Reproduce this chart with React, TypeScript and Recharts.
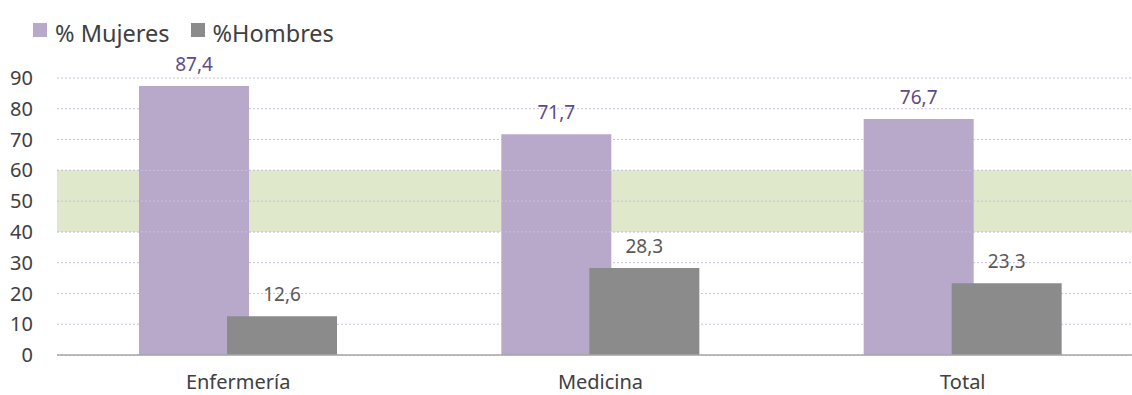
import React from 'react';
import {
  BarChart, Bar, XAxis, YAxis, CartesianGrid, Legend, LabelList,
  ReferenceArea, ReferenceLine,
} from 'recharts';

const categories = ['Enfermería', 'Medicina', 'Total'];
const mujeres = [87.4, 71.7, 76.7];
const hombres = [12.6, 28.3, 23.3];
const yTicks = [0, 10, 20, 30, 40, 50, 60, 70, 80, 90];
const bandRange = [40, 60];
const bandLines = [40, 50, 60];
const edgeTicks = [0, 1, 2, 3];

const data = categories.map((c, i) => ({ cat: c, mujeres: mujeres[i], hombres: hombres[i] }));

const FONT = '"Noto Sans", "Open Sans", sans-serif';
const fmt = (v: any) => String(v).replace('.', ',');

const renderLegend = (props: any) => {
  const { payload } = props;
  return (
    <div style={{ display: 'flex', alignItems: 'flex-start', fontFamily: FONT, fontSize: 23.5, color: '#404040', whiteSpace: 'nowrap', lineHeight: '32px' }}>
      {(payload || []).map((entry: any, i: number) => (
        <div key={i} style={{ display: 'flex', alignItems: 'flex-start', marginRight: 21 }}>
          <span style={{ width: 14, height: 14, background: entry.color, display: 'inline-block', marginRight: 8, marginTop: 6 }} />
          <span>{entry.value}</span>
        </div>
      ))}
    </div>
  );
};

export default function App() {
  return (
    <div style={{ position: 'fixed', left: 0, top: 0, width: 1132, height: 395, overflow: 'hidden', background: '#fff' }}>
      <BarChart
        width={1160}
        height={395}
        data={data}
        margin={{ top: 78, right: 16, bottom: 0, left: 0 }}
        barGap={-22}
      >
        <CartesianGrid xAxisId="b" vertical={false} stroke="#CBBEDD" strokeDasharray="2 2" />
        <ReferenceArea xAxisId="b" y1={bandRange[0]} y2={bandRange[1]} fill="#DFE8CB" fillOpacity={1} stroke="none" />
        {bandLines.map((v) => (
          <ReferenceLine key={v} xAxisId="b" y={v} stroke="#CBBEDD" strokeDasharray="2 2" />
        ))}
        <XAxis
          xAxisId="a"
          type="number"
          domain={[0, 3]}
          allowDataOverflow
          ticks={edgeTicks}
          tick={false}
          tickSize={8}
          height={1}
          axisLine={{ stroke: '#A6A6A6', strokeWidth: 1.5 }}
          tickLine={{ stroke: '#A6A6A6', strokeWidth: 1.5 }}
        />
        <XAxis
          xAxisId="b"
          dataKey="cat"
          axisLine={false}
          tickLine={false}
          tickMargin={13}
          height={39}
          tick={{ fill: '#404040', fontSize: 20, fontFamily: FONT }}
        />
        <YAxis
          domain={[0, 90]}
          ticks={yTicks}
          interval={0}
          axisLine={false}
          tickLine={false}
          tickSize={6}
          tickMargin={18}
          width={57}
          tick={{ fill: '#404040', fontSize: 20, fontFamily: FONT }}
        />
        <Legend
          layout="horizontal"
          verticalAlign="middle"
          align="center"
          content={renderLegend}
          wrapperStyle={{ top: 17, left: 33, width: 'auto', height: 'auto' }}
        />
        <Bar xAxisId="b" dataKey="mujeres" name="% Mujeres" fill="#B8A9CB" barSize={110} isAnimationActive={false}>
          <LabelList dataKey="mujeres" position="top" offset={15} formatter={fmt} fill="#5F4B8B" fontSize={19} fontFamily={FONT} />
        </Bar>
        <Bar xAxisId="b" dataKey="hombres" name="%Hombres" fill="#8B8B8B" barSize={110} isAnimationActive={false}>
          <LabelList dataKey="hombres" position="top" offset={15} formatter={fmt} fill="#595959" fontSize={19} fontFamily={FONT} />
        </Bar>
      </BarChart>
    </div>
  );
}
